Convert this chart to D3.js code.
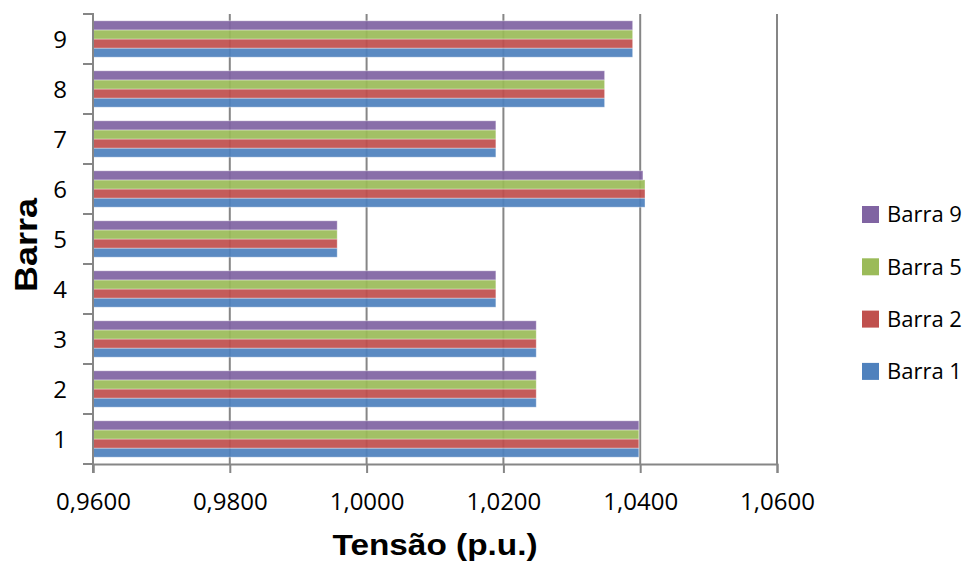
<!DOCTYPE html>
<html>
<head>
<meta charset="utf-8">
<script src="https://cdnjs.cloudflare.com/ajax/libs/d3/7.8.5/d3.min.js"></script>
<style>
  body { margin: 0; background: #fff; }
  svg { display: block; }
</style>
</head>
<body>
<div id="chart"></div>
<script>
// categories (bus number) and series values
var categories = ["1", "2", "3", "4", "5", "6", "7", "8", "9"]
var seriesNames = ["Barra 1", "Barra 2", "Barra 5", "Barra 9"]
var barra1 = [1.0398, 1.0248, 1.0248, 1.0189, 0.9957, 1.0407, 1.0189, 1.0348, 1.0389]
var barra2 = [1.0398, 1.0248, 1.0248, 1.0189, 0.9957, 1.0407, 1.0189, 1.0348, 1.0389]
var barra5 = [1.0398, 1.0248, 1.0248, 1.0189, 0.9957, 1.0407, 1.0189, 1.0348, 1.0389]
var barra9 = [1.0398, 1.0248, 1.0248, 1.0189, 0.9957, 1.0404, 1.0189, 1.0348, 1.0389]
var xTicks = [0.96, 0.98, 1.00, 1.02, 1.04, 1.06]
var colors = ["#4F81BD", "#C0504D", "#9BBB59", "#8064A2"]

var seriesValues = [barra1, barra2, barra5, barra9]

var width = 970, height = 565
var plotLeft = 93, plotRight = 777, plotTop = 14, plotBottom = 464

var svg = d3.select("#chart").append("svg")
    .attr("width", width)
    .attr("height", height)

var xScale = d3.scaleLinear()
    .domain([0.96, 1.06])
    .range([plotLeft, plotRight])

// category 1 at the bottom
var yScale = d3.scaleBand()
    .domain(categories)
    .range([plotBottom, plotTop])
    .padding(0)

// Barra 9 on top of each group, Barra 1 at the bottom
var inner = d3.scaleBand()
    .domain(seriesNames.slice().reverse())
    .range([0, yScale.bandwidth()])
    .paddingInner(0)
    .paddingOuter(0.75)

var color = d3.scaleOrdinal().domain(seriesNames).range(colors)

var loc = d3.formatLocale({decimal: ",", thousands: ".", grouping: [3], currency: ["", ""]})
var fmt = loc.format(".4f")

// vertical gridlines
svg.append("g")
  .selectAll("line")
  .data(xTicks.slice(1))
  .enter().append("line")
    .attr("x1", function(d) { return xScale(d) })
    .attr("x2", function(d) { return xScale(d) })
    .attr("y1", plotTop)
    .attr("y2", plotBottom)
    .attr("stroke", "#868686")
    .attr("stroke-width", 2)

// bars
var rows = []
for (var s = 0; s < seriesNames.length; s++) {
    for (var c = 0; c < categories.length; c++) {
        rows.push({serie: seriesNames[s], cat: categories[c], v: seriesValues[s][c]})
    }
}

svg.append("g")
  .selectAll("rect")
  .data(rows)
  .enter().append("rect")
    .attr("x", xScale(0.96))
    .attr("y", function(d) { return yScale(d.cat) + inner(d.serie) })
    .attr("width", function(d) { return xScale(d.v) - xScale(0.96) })
    .attr("height", inner.bandwidth())
    .attr("fill", function(d) { return color(d.serie) })
    .attr("fill-opacity", 0.93)
    .attr("stroke", "rgba(255,255,255,0.45)")
    .attr("stroke-width", 0.8)

// x axis
var xAxis = svg.append("g")
    .attr("transform", "translate(0," + plotBottom + ")")
    .call(d3.axisBottom(xScale).tickValues(xTicks).tickFormat(fmt).tickSize(9).tickPadding(20))
xAxis.select(".domain").attr("stroke", "#868686").attr("stroke-width", 2)
xAxis.selectAll(".tick line").attr("stroke", "#868686").attr("stroke-width", 2)
xAxis.selectAll("text")
    .attr("fill", "#000")
    .style("font-family", "'Open Sans', sans-serif")
    .style("font-size", "24px")

// y axis, ticks at band boundaries
var yAxis = svg.append("g")
    .attr("transform", "translate(" + plotLeft + ",0)")
yAxis.append("line")
    .attr("x1", 0).attr("x2", 0)
    .attr("y1", plotTop - 1).attr("y2", plotBottom + 9)
    .attr("stroke", "#868686").attr("stroke-width", 2)
var bounds = categories.map(function(c) { return yScale(c) }).concat([plotBottom])
yAxis.selectAll(".ytick")
  .data(bounds)
  .enter().append("line")
    .attr("class", "ytick")
    .attr("x1", -10).attr("x2", 0)
    .attr("y1", function(d) { return d })
    .attr("y2", function(d) { return d })
    .attr("stroke", "#868686").attr("stroke-width", 2)
yAxis.selectAll(".ylab")
  .data(categories)
  .enter().append("text")
    .attr("class", "ylab")
    .attr("x", -26)
    .attr("y", function(d) { return yScale(d) + yScale.bandwidth() / 2 })
    .attr("dy", "0.36em")
    .attr("text-anchor", "end")
    .style("font-family", "'Open Sans', sans-serif")
    .style("font-size", "24px")
    .text(function(d) { return d })

// axis titles
svg.append("text")
    .attr("x", 435)
    .attr("y", 555)
    .attr("text-anchor", "middle")
    .attr("textLength", 205)
    .attr("lengthAdjust", "spacingAndGlyphs")
    .style("font-family", "'Liberation Sans', Arial, sans-serif")
    .style("font-weight", "bold")
    .style("font-size", "29px")
    .text("Tensão (p.u.)")

svg.append("text")
    .attr("transform", "translate(37,245) rotate(-90)")
    .attr("text-anchor", "middle")
    .attr("textLength", 94)
    .attr("lengthAdjust", "spacingAndGlyphs")
    .style("font-family", "'Liberation Sans', Arial, sans-serif")
    .style("font-weight", "bold")
    .style("font-size", "31px")
    .text("Barra")

// legend, Barra 9 on top
var legend = svg.append("g")
  .selectAll("g")
  .data(seriesNames.slice().reverse())
  .enter().append("g")
    .attr("transform", function(d, i) { return "translate(862," + (206 + i * 52.3) + ")" })
legend.append("rect")
    .attr("width", 17)
    .attr("height", 17)
    .attr("fill", function(d) { return color(d) })
legend.append("text")
    .attr("x", 25)
    .attr("y", 8.5)
    .attr("dy", "0.36em")
    .style("font-family", "'Open Sans', sans-serif")
    .style("font-size", "22px")
    .text(function(d) { return d })
</script>
</body>
</html>
